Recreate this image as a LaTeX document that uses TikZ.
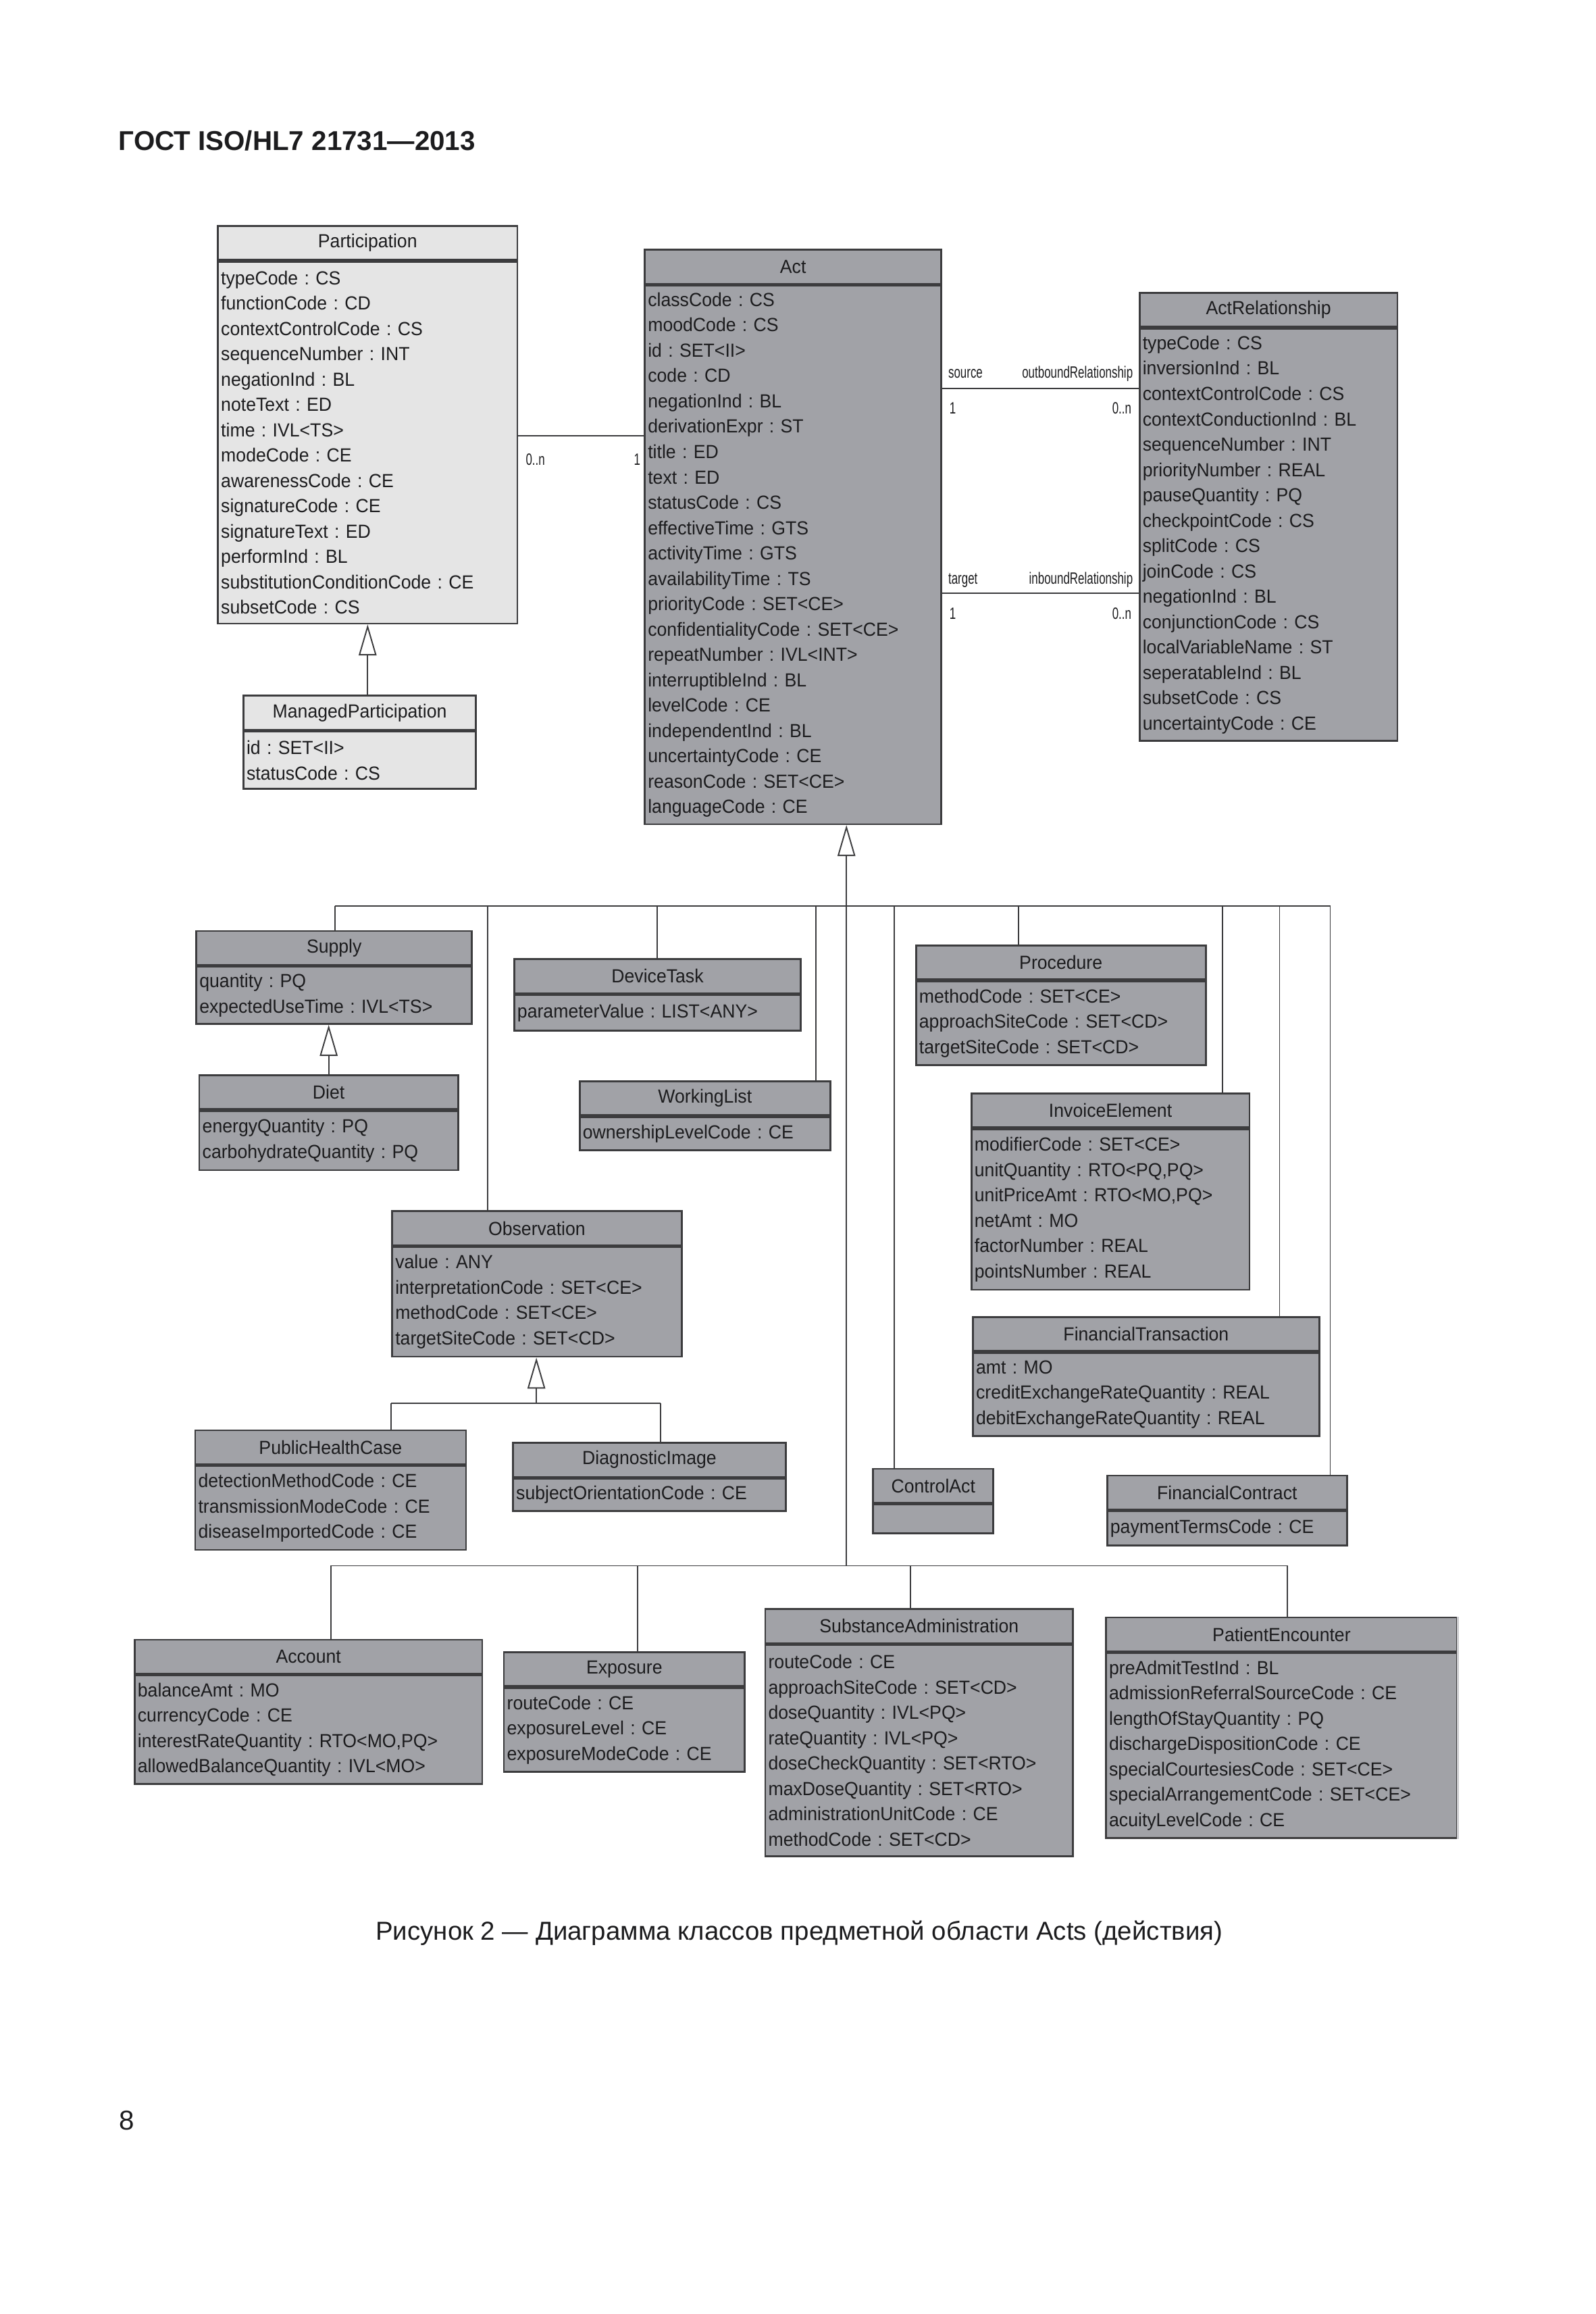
\documentclass[tikz,border=0pt]{standalone}
\usepackage{fontspec}
\setmainfont{Liberation Sans}
\newfontfamily\umlfont[FakeStretch=0.95]{Liberation Sans}
\newfontfamily\tagfont[FakeStretch=0.7]{Liberation Sans}
\usepackage{tikz}
\usetikzlibrary{arrows.meta}
\definecolor{boxdark}{RGB}{161,162,167}
\definecolor{boxlight}{RGB}{229,229,229}
\definecolor{boxline}{RGB}{60,60,62}
\definecolor{boxfade}{RGB}{205,205,208}
\definecolor{ink}{RGB}{28,28,30}
\frenchspacing
\newcommand{\pxl}{0.02cm}
\newcommand{\umlclass}[7]{%
  \pgfmathsetlengthmacro{\tw}{#4*\pxl-2.4pt}%
  \node [ #2, anchor=north west, minimum width=#4*\pxl, minimum height=23*\pxl ] (#1) at (#3) {#6};
  \node [ #2, anchor=north west, minimum width=#4*\pxl, minimum height=#5*\pxl,
    text width=\tw, align=left ] (#1b) at (#1.south west) {#7};
}
\tikzset{
  darkbox/.style={ draw=boxline, fill=boxdark, line width=0.7pt, inner xsep=1.2pt, inner ysep=0pt,
    text=ink, font=\umlfont\fontsize{7.3}{9.76}\selectfont\frenchspacing },
  lightbox/.style={ darkbox, fill=boxlight },
  link/.style={ draw=boxline, line width=0.5pt },
  inherit/.style={ link, -{Triangle[open, length=0.42cm, width=0.24cm]} },
  tag/.style={ inner sep=0pt, text=ink, font=\tagfont\fontsize{6.3}{7}\selectfont }
}

\begin{document}
\begin{tikzpicture}[ x=0.02cm, y=-0.02cm ]
  \useasboundingbox (0,0) rectangle (1080,1566);
  \node [ anchor=west, inner sep=0pt, text=ink, font=\bfseries\fontsize{10.5}{12}\selectfont ] (gost) at (80,95) {ГОСТ ISO/HL7 21731—2013};

  \umlclass{part}{lightbox}{146.9,152.2}{202.7}{244.9}{Participation}{typeCode : CS\\ functionCode : CD\\
    contextControlCode : CS\\ sequenceNumber : INT\\ negationInd : BL\\ noteText : ED\\ time : IVL<TS>\\
    modeCode : CE\\ awarenessCode : CE\\ signatureCode : CE\\ signatureText : ED\\ performInd : BL\\
    substitutionConditionCode : CE\\ subsetCode : CS}
  \umlclass{act}{darkbox}{435.9,168.4}{200.7}{364.5}{Act}{classCode : CS\\ moodCode : CS\\ id : SET<II>\\
    code : CD\\ negationInd : BL\\ derivationExpr : ST\\ title : ED\\ text : ED\\ statusCode : CS\\
    effectiveTime : GTS\\ activityTime : GTS\\ availabilityTime : TS\\ priorityCode : SET<CE>\\
    confidentialityCode : SET<CE>\\ repeatNumber : IVL<INT>\\ interruptibleInd : BL\\ levelCode : CE\\
    independentInd : BL\\ uncertaintyCode : CE\\ reasonCode : SET<CE>\\ languageCode : CE}
  \umlclass{actrel}{darkbox}{770.8,197.6}{174.6}{278.9}{ActRelationship}{typeCode : CS\\ inversionInd : BL\\
    contextControlCode : CS\\ contextConductionInd : BL\\ sequenceNumber : INT\\ priorityNumber : REAL\\
    pauseQuantity : PQ\\ checkpointCode : CS\\ splitCode : CS\\ joinCode : CS\\ negationInd : BL\\
    conjunctionCode : CS\\ localVariableName : ST\\ seperatableInd : BL\\ subsetCode : CS\\ uncertaintyCode : CE}
  \umlclass{mpart}{lightbox}{164.2,470.2}{157.4}{38.9}{ManagedParticipation}{id : SET<II>\\ statusCode : CS}

  \umlclass{supply}{darkbox}{132.3,629.5}{186.6}{38.6}{Supply}{quantity : PQ\\ expectedUseTime : IVL<TS>}
  \umlclass{diet}{darkbox}{134.3,727}{175.2}{40}{Diet}{energyQuantity : PQ\\ carbohydrateQuantity : PQ}
  \umlclass{devtask}{darkbox}{347.5,648.5}{194}{24}{DeviceTask}{parameterValue : LIST<ANY>}
  \umlclass{wlist}{darkbox}{391.8,731.1}{169.7}{22.4}{WorkingList}{ownershipLevelCode : CE}
  \umlclass{proc}{darkbox}{619.5,639.2}{196.1}{56.8}{Procedure}{methodCode : SET<CE>\\
    approachSiteCode : SET<CD>\\ targetSiteCode : SET<CD>}
  \umlclass{invoice}{darkbox}{657,739.4}{188.2}{108.6}{InvoiceElement}{modifierCode : SET<CE>\\
    unitQuantity : RTO<PQ,PQ>\\ unitPriceAmt : RTO<MO,PQ>\\ netAmt : MO\\ factorNumber : REAL\\ pointsNumber : REAL}
  \umlclass{obs}{darkbox}{264.9,819.1}{195.9}{74.2}{Observation}{value : ANY\\ interpretationCode : SET<CE>\\
    methodCode : SET<CE>\\ targetSiteCode : SET<CD>}
  \umlclass{fintrans}{darkbox}{658,890.6}{234.5}{56.4}{FinancialTransaction}{amt : MO\\
    creditExchangeRateQuantity : REAL\\ debitExchangeRateQuantity : REAL}
  \umlclass{phc}{darkbox}{131.5,967.3}{183.3}{56.7}{PublicHealthCase}{detectionMethodCode : CE\\
    transmissionModeCode : CE\\ diseaseImportedCode : CE}
  \umlclass{dimg}{darkbox}{346.7,975.8}{184.6}{22}{DiagnosticImage}{subjectOrientationCode : CE}
  \umlclass{ctrl}{darkbox}{590.5,993.4}{81.3}{19.5}{ControlAct}{}
  \umlclass{fincon}{darkbox}{748.9,997.9}{162.4}{23.2}{FinancialContract}{paymentTermsCode : CE}

  \umlclass{account}{darkbox}{90.5,1109.1}{235.4}{73.2}{Account}{balanceAmt : MO\\ currencyCode : CE\\
    interestRateQuantity : RTO<MO,PQ>\\ allowedBalanceQuantity : IVL<MO>}
  \umlclass{expo}{darkbox}{340.5,1117.5}{163}{56.7}{Exposure}{routeCode : CE\\ exposureLevel : CE\\
    exposureModeCode : CE}
  \umlclass{subst}{darkbox}{517.4,1088.3}{208.4}{143.1}{SubstanceAdministration}{routeCode : CE\\
    approachSiteCode : SET<CD>\\ doseQuantity : IVL<PQ>\\ rateQuantity : IVL<PQ>\\ doseCheckQuantity : SET<RTO>\\
    maxDoseQuantity : SET<RTO>\\ administrationUnitCode : CE\\ methodCode : SET<CD>}
  \umlclass{patient}{darkbox}{748.1,1093.9}{237.7}{125}{PatientEncounter}{preAdmitTestInd : BL\\
    admissionReferralSourceCode : CE\\ lengthOfStayQuantity : PQ\\ dischargeDispositionCode : CE\\
    specialCourtesiesCode : SET<CE>\\ specialArrangementCode : SET<CE>\\ acuityLevelCode : CE}
  \draw [ draw=boxfade, line width=0.7pt ] (patient.north east) -- (patientb.south east);

  \coordinate (pa) at (390,294.7);
  \draw [ link ] (pa -| partb.east) -- (pa -| actb.west)
    node [ tag, pos=0, anchor=base west, xshift=0.094cm, yshift=-0.405cm ] {0..n}
    node [ tag, pos=1, anchor=base east, xshift=-0.04cm, yshift=-0.4cm ] {1};
  \coordinate (out) at (700,262.8);
  \draw [ link ] (out -| actb.east) -- (out -| actrelb.west)
    node [ tag, pos=0, anchor=base west, xshift=0.074cm, yshift=0.136cm ] {source}
    node [ tag, pos=1, anchor=base east, xshift=-0.07cm, yshift=0.136cm ] {outboundRelationship}
    node [ tag, pos=0, anchor=base west, xshift=0.09cm, yshift=-0.346cm ] {1}
    node [ tag, pos=1, anchor=base east, xshift=-0.09cm, yshift=-0.346cm ] {0..n};
  \coordinate (in) at (700,401.6);
  \draw [ link ] (in -| actb.east) -- (in -| actrelb.west)
    node [ tag, pos=0, anchor=base west, xshift=0.074cm, yshift=0.13cm ] {target}
    node [ tag, pos=1, anchor=base east, xshift=-0.07cm, yshift=0.13cm ] {inboundRelationship}
    node [ tag, pos=0, anchor=base west, xshift=0.09cm, yshift=-0.35cm ] {1}
    node [ tag, pos=1, anchor=base east, xshift=-0.09cm, yshift=-0.35cm ] {0..n};

  \draw [ inherit ] (mpart.north -| partb.south) -- (partb.south);
  \draw [ inherit ] (diet.north) -- (diet.north |- supplyb.south);

  \coordinate (b1) at (226.6,613.2);
  \coordinate (b2) at (330.3,613.2);
  \coordinate (b3) at (444.9,613.2);
  \coordinate (b4) at (552.4,613.2);
  \coordinate (b6) at (605.2,613.2);
  \coordinate (b7) at (689.3,613.2);
  \coordinate (b8) at (827.4,613.2);
  \coordinate (b9) at (866.2,613.2);
  \coordinate (b10) at (900.5,613.2);
  \coordinate (c1) at (224.2,1059.6);
  \coordinate (c2) at (431.6,1059.6);
  \coordinate (c3) at (573,1059.6);
  \coordinate (c4) at (616.4,1059.6);
  \coordinate (c5) at (871.4,1059.6);
  \draw [ inherit ] (c3) -- (c3 |- actb.south);
  \draw [ link ] (b1) -- (b10);
  \draw [ link ] (b1) -- (b1 |- supply.north);
  \draw [ link ] (b2) -- (b2 |- obs.north);
  \draw [ link ] (b3) -- (b3 |- devtask.north);
  \draw [ link ] (b4) -- (b4 |- wlist.north);
  \draw [ link ] (b6) -- (b6 |- ctrl.north);
  \draw [ link ] (b7) -- (b7 |- proc.north);
  \draw [ link ] (b8) -- (b8 |- invoice.north);
  \draw [ link ] (b9) -- (b9 |- fintrans.north);
  \draw [ link ] (b10) -- (b10 |- fincon.north);
  \draw [ link ] (c1) -- (c5);
  \draw [ link ] (c1) -- (c1 |- account.north);
  \draw [ link ] (c2) -- (c2 |- expo.north);
  \draw [ link ] (c4) -- (c4 |- subst.north);
  \draw [ link ] (c5) -- (c5 |- patient.north);

  \coordinate (o1) at (264.9,949.5);
  \coordinate (o2) at (363.1,949.5);
  \coordinate (o3) at (447.3,949.5);
  \draw [ inherit ] (o2) -- (o2 |- obsb.south);
  \draw [ link ] (o1) -- (o3);
  \draw [ link ] (o1) -- (o1 |- phc.north);
  \draw [ link ] (o3) -- (o3 |- dimg.north);

  \node [ text=ink, font=\fontsize{10}{12}\selectfont ] (caption) at (541,1308)
    {Рисунок 2 — Диаграмма классов предметной области Acts (действия)};
  \node [ text=ink, font=\fontsize{10.5}{12}\selectfont ] (page) at (86,1435) {8};
\end{tikzpicture}
\end{document}
